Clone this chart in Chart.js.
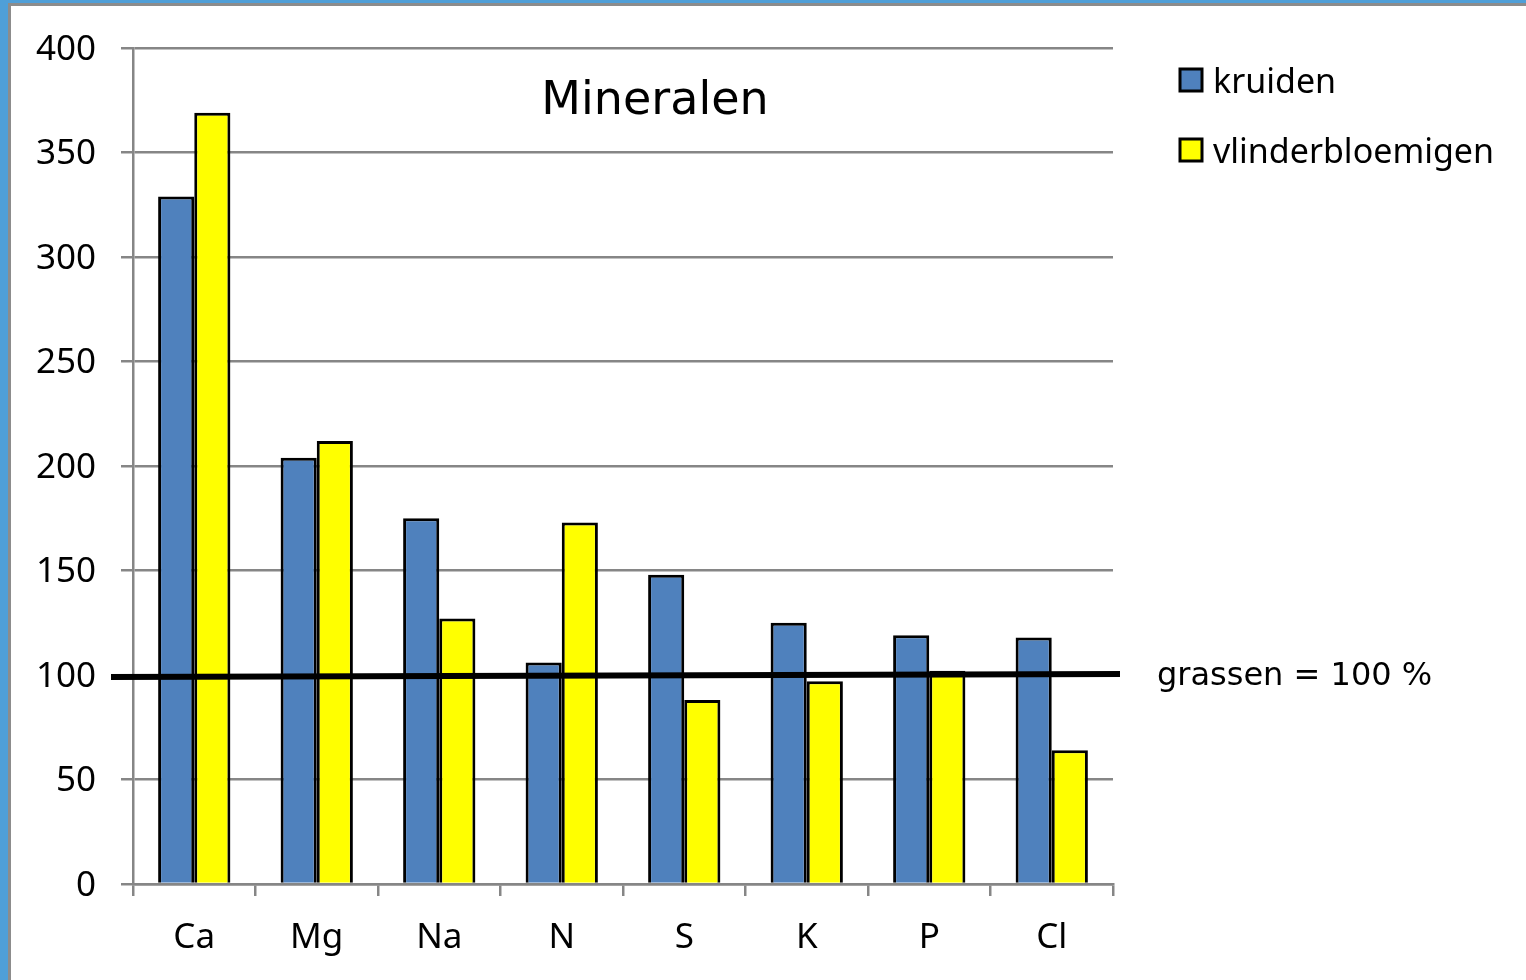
<!DOCTYPE html>
<html>
<head>
<meta charset="utf-8">
<script src="https://cdn.jsdelivr.net/npm/chart.js@4"></script>
<style>
  html, body { margin: 0; padding: 0; background: #fff; }
  #frame {
    position: absolute; left: 0; top: 0; width: 1526px; height: 980px;
    box-sizing: border-box; background: #fff;
    border-left: 8px solid #4f9fd8; border-top: 3px solid #4f9fd8;
  }
  #inner {
    position: absolute; left: 8px; top: 3px; right: 0; bottom: 0;
    border-left: 3px solid #8c8c8c; border-top: 3px solid #8c8c8c;
  }
  #wrap { position: absolute; left: 0; top: 0; width: 1526px; height: 980px; }
</style>
</head>
<body>
<div id="frame"></div>
<div id="inner"></div>
<div id="wrap"><canvas id="chart"></canvas></div>
<script>
// data
const categories = ['Ca', 'Mg', 'Na', 'N', 'S', 'K', 'P', 'Cl'];
const kruiden = [329, 204, 175, 106, 148, 125, 119, 118];
const vlinderbloemigen = [369, 212, 127, 173, 88, 97, 102, 64];
const yTicks = [0, 50, 100, 150, 200, 250, 300, 350, 400];
const grassenLine = [99, 100.5]; // left end, right end (slightly tilted in the original)

const sansFont = '"Noto Sans", "Open Sans", sans-serif';
const verdanaFont = '"DejaVu Sans", Verdana, sans-serif';

// title, legend, reference line and its label
const extras = {
  id: 'extras',
  afterDatasetsDraw(chart) {
    const { ctx, chartArea, scales } = chart;
    const y = scales.y;
    ctx.save();

    // 100% line
    ctx.strokeStyle = '#000';
    ctx.lineWidth = 6;
    ctx.beginPath();
    ctx.moveTo(chartArea.left - 22, y.getPixelForValue(grassenLine[0]));
    ctx.lineTo(chartArea.right + 7, y.getPixelForValue(grassenLine[1]));
    ctx.stroke();

    ctx.fillStyle = '#000';
    ctx.textBaseline = 'middle';
    ctx.font = '32px ' + verdanaFont;
    ctx.textAlign = 'left';
    ctx.fillText('grassen = 100 %', 1157, y.getPixelForValue(100) + 2);

    // title
    ctx.font = '46px ' + verdanaFont;
    ctx.textAlign = 'center';
    ctx.fillText('Mineralen', 655, 102);

    // legend
    const items = chart.data.datasets;
    ctx.font = '34px ' + sansFont;
    ctx.textAlign = 'left';
    items.forEach((ds, i) => {
      const cy = 80 + i * 70;
      ctx.fillStyle = ds.backgroundColor;
      ctx.fillRect(1180, cy - 11, 22, 22);
      ctx.strokeStyle = '#000';
      ctx.lineWidth = 3;
      ctx.strokeRect(1180, cy - 11, 22, 22);
      ctx.fillStyle = '#000';
      ctx.fillText(ds.label, 1213, cy + 3);
    });
    ctx.restore();
  }
};

new Chart(document.getElementById('chart'), {
  type: 'bar',
  data: {
    labels: categories,
    datasets: [
      {
        label: 'kruiden',
        data: kruiden,
        backgroundColor: '#4f81bd',
        borderColor: '#000',
        borderWidth: 3,
        categoryPercentage: 0.59,
        barPercentage: 1
      },
      {
        label: 'vlinderbloemigen',
        data: vlinderbloemigen,
        backgroundColor: '#ffff00',
        borderColor: '#000',
        borderWidth: 3,
        categoryPercentage: 0.59,
        barPercentage: 1
      }
    ]
  },
  options: {
    responsive: true,
    maintainAspectRatio: false,
    animation: false,
    layout: { padding: { left: 0, top: 48, right: 413, bottom: 0 } },
    plugins: {
      legend: { display: false },
      tooltip: { enabled: false }
    },
    scales: {
      x: {
        afterFit(scale) { scale.height = 96; },
        border: { color: '#868686', width: 2.5 },
        grid: {
          offset: true,
          drawOnChartArea: false,
          drawTicks: true,
          tickLength: 12,
          color: '#868686',
          lineWidth: 2.5
        },
        ticks: {
          color: '#000',
          font: { family: sansFont, size: 35 },
          padding: 21
        }
      },
      y: {
        min: 0,
        max: 400,
        afterFit(scale) { scale.width = 133; },
        afterBuildTicks(scale) { scale.ticks = yTicks.map(v => ({ value: v })); },
        border: { color: '#868686', width: 2.5 },
        grid: {
          color: '#868686',
          lineWidth: 2.5,
          tickLength: 12
        },
        ticks: {
          color: '#000',
          font: { family: sansFont, size: 35 },
          padding: 25,
          labelOffset: 2
        }
      }
    }
  },
  plugins: [extras]
});
</script>
</body>
</html>
